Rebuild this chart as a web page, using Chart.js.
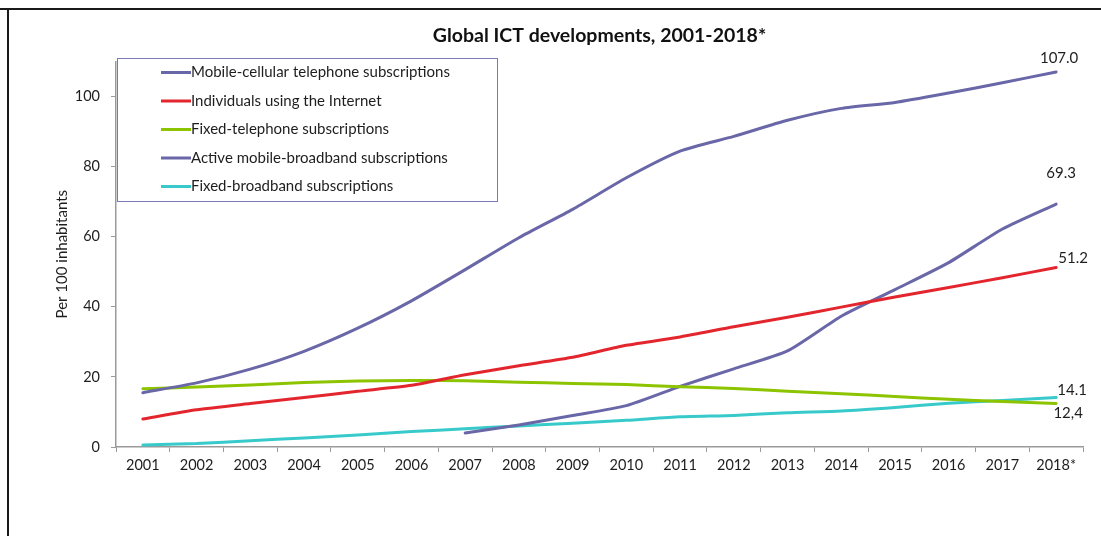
<!DOCTYPE html>
<html>
<head>
<meta charset="utf-8">
<script src="https://cdn.jsdelivr.net/npm/chart.js@4"></script>
<style>
  html, body { margin: 0; padding: 0; background: #ffffff; }
  #wrap { position: relative; width: 1101px; height: 536px; }
</style>
</head>
<body>
<div id="wrap"><canvas id="c"></canvas></div>
<script>
// ---- data ----
const years = ['2001','2002','2003','2004','2005','2006','2007','2008','2009','2010','2011','2012','2013','2014','2015','2016','2017','2018*'];
const mobileCellular = [15.5, 18.3, 22.2, 27.3, 33.9, 41.7, 50.6, 59.7, 67.8, 76.8, 84.4, 88.6, 93.2, 96.6, 98.3, 101.0, 103.9, 107.0];
const internetUsers  = [8.0, 10.6, 12.4, 14.1, 15.9, 17.6, 20.6, 23.2, 25.6, 29.0, 31.4, 34.3, 37.0, 39.9, 42.8, 45.5, 48.3, 51.2];
const fixedTelephone = [16.6, 17.1, 17.7, 18.4, 18.8, 19.0, 18.9, 18.5, 18.1, 17.8, 17.2, 16.7, 15.9, 15.2, 14.4, 13.6, 13.0, 12.4];
const mobileBroadband = [null, null, null, null, null, null, 4.0, 6.3, 9.0, 11.8, 17.3, 22.3, 27.4, 37.3, 44.9, 52.6, 62.2, 69.3];
const fixedBroadband = [0.6, 1.0, 1.8, 2.6, 3.4, 4.4, 5.2, 6.0, 6.8, 7.6, 8.6, 9.0, 9.8, 10.3, 11.3, 12.5, 13.3, 14.1];
const seriesNames = [
  'Mobile-cellular telephone subscriptions',
  'Individuals using the Internet',
  'Fixed-telephone subscriptions',
  'Active mobile-broadband subscriptions',
  'Fixed-broadband subscriptions'
];
const endLabels = ['107.0', '51.2', '12,4', '69.3', '14.1'];
const yTicks = [0, 20, 40, 60, 80, 100];

// ---- styles ----
const colors = ['#6967a8', '#e3262d', '#8cc400', '#6967a8', '#38cacb'];
const endLabelOffsets = [[3, -14], [17, -9], [12, 10], [5, -31], [16, -7]];
const FONT = 'Lato, "Open Sans", sans-serif';

const seriesData = [mobileCellular, internetUsers, fixedTelephone, mobileBroadband, fixedBroadband];

const framePlugin = {
  id: 'frame',
  beforeDraw(chart) {
    const ctx = chart.ctx;
    ctx.save();
    ctx.fillStyle = '#ffffff';
    ctx.fillRect(0, 0, chart.width, chart.height);
    ctx.strokeStyle = '#1a1a1a';
    ctx.lineWidth = 2;
    ctx.beginPath();
    ctx.moveTo(0, 9);
    ctx.lineTo(chart.width, 9);
    ctx.moveTo(8, 9);
    ctx.lineTo(8, chart.height);
    ctx.stroke();
    ctx.restore();
  }
};

const boxLegendPlugin = {
  id: 'boxLegend',
  afterDatasetsDraw(chart) {
    const ctx = chart.ctx;
    const left = chart.chartArea.left + 1, top = 58, right = 497, bottom = 201;
    ctx.save();
    ctx.fillStyle = '#ffffff';
    ctx.fillRect(left, top, right - left, bottom - top);
    ctx.strokeStyle = '#7b79b3';
    ctx.lineWidth = 1;
    ctx.strokeRect(left + 0.5, top + 0.5, right - left, bottom - top);
    ctx.font = '15px ' + FONT;
    ctx.textBaseline = 'middle';
    ctx.textAlign = 'left';
    chart.data.datasets.forEach((ds, i) => {
      const y = 72.5 + i * 28.5;
      ctx.strokeStyle = ds.borderColor;
      ctx.lineWidth = 3;
      ctx.beginPath();
      ctx.moveTo(161, y);
      ctx.lineTo(191, y);
      ctx.stroke();
      ctx.fillStyle = '#1e1e1e';
      ctx.fillText(ds.label, 191, y);
    });
    ctx.restore();
  }
};

const endLabelPlugin = {
  id: 'endLabels',
  afterDatasetsDraw(chart) {
    const ctx = chart.ctx;
    ctx.save();
    ctx.font = '15px ' + FONT;
    ctx.fillStyle = '#1e1e1e';
    ctx.textAlign = 'center';
    ctx.textBaseline = 'middle';
    chart.data.datasets.forEach((ds, i) => {
      const meta = chart.getDatasetMeta(i);
      const pt = meta.data[meta.data.length - 1];
      const off = endLabelOffsets[i];
      ctx.fillText(endLabels[i], pt.x + off[0], pt.y + off[1]);
    });
    ctx.restore();
  }
};

new Chart(document.getElementById('c'), {
  type: 'line',
  data: {
    labels: years,
    datasets: seriesData.map((d, i) => ({
      label: seriesNames[i],
      data: d,
      borderColor: colors[i],
      backgroundColor: colors[i],
      borderWidth: 3,
      pointRadius: 0,
      tension: 0.2,
      borderCapStyle: 'round',
      fill: false,
      spanGaps: false
    }))
  },
  options: {
    responsive: true,
    maintainAspectRatio: false,
    animation: false,
    layout: { padding: { left: 0, right: 18, top: 0, bottom: 0 } },
    plugins: {
      legend: { display: false },
      tooltip: { enabled: false },
      title: {
        display: true,
        text: 'Global ICT developments, 2001-2018*',
        fullSize: false,
        color: '#111111',
        font: { family: FONT, size: 19.5, weight: 'bold', lineHeight: 1.2 },
        padding: { top: 24, bottom: 14 }
      }
    },
    scales: {
      x: {
        offset: true,
        grid: { offset: true, drawOnChartArea: false, drawTicks: true, tickLength: 5, color: '#9a9a9a' },
        border: { display: true, color: '#9a9a9a', width: 1.5 },
        ticks: { color: '#1e1e1e', font: { family: FONT, size: 14.5 }, padding: 5, maxRotation: 0, autoSkip: false },
        afterFit(scale) { scale.height = 89; }
      },
      y: {
        min: 0,
        max: 110,
        grid: { drawOnChartArea: false, drawTicks: true, tickLength: 5, color: '#9a9a9a' },
        border: { display: true, color: '#9a9a9a', width: 1.5 },
        ticks: { stepSize: 20, color: '#1e1e1e', font: { family: FONT, size: 14.5 }, padding: 11 },
        afterBuildTicks(scale) { scale.ticks = yTicks.map(v => ({ value: v })); },
        title: {
          display: true,
          text: 'Per 100 inhabitants',
          color: '#1e1e1e',
          font: { family: FONT, size: 15 },
          padding: { top: 53, bottom: 0 }
        },
        afterFit(scale) { scale.width = 116; }
      }
    }
  },
  plugins: [framePlugin, boxLegendPlugin, endLabelPlugin]
});
</script>
</body>
</html>
